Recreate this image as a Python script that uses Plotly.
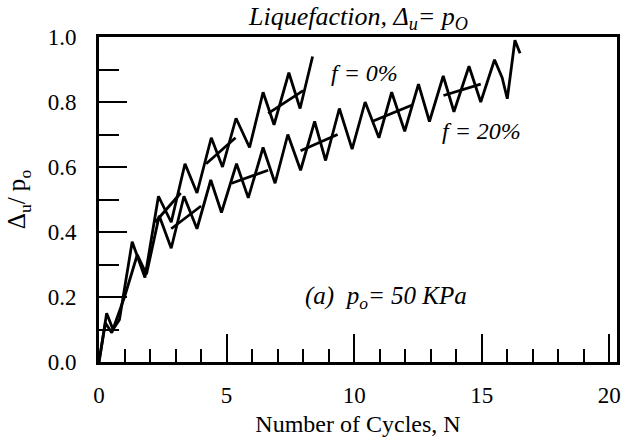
import plotly.graph_objects as go

# f = 0% curve (cycles N, pore pressure ratio du/po)
f0_n = [0, 0.3, 0.55, 0.8, 1.3, 1.8, 2.33, 2.83, 3.37, 3.84, 4.4, 4.84, 5.37, 5.9,
        6.43, 6.86, 7.44, 7.88, 8.37]
f0_v = [0, 0.15, 0.10, 0.13, 0.37, 0.26, 0.51, 0.43, 0.61, 0.52, 0.69, 0.60, 0.75, 0.66,
        0.83, 0.73, 0.89, 0.78, 0.94]

# f = 20% curve
f20_n = [0, 0.25, 0.5, 1.0, 1.5, 1.86, 2.36, 2.83, 3.33, 3.84, 4.38, 4.8, 5.39, 5.85,
         6.43, 6.9, 7.4, 7.9, 8.45, 8.88, 9.42, 9.92, 10.43, 10.97, 11.47, 11.98,
         12.52, 12.95, 13.49, 13.91, 14.5, 14.96, 15.5, 15.8, 16.0, 16.3, 16.5]
f20_v = [0, 0.12, 0.09, 0.20, 0.33, 0.27, 0.45, 0.35, 0.51, 0.41, 0.56, 0.46, 0.61, 0.505,
         0.66, 0.55, 0.70, 0.59, 0.74, 0.62, 0.78, 0.655, 0.80, 0.69, 0.83, 0.71,
         0.855, 0.74, 0.88, 0.77, 0.91, 0.80, 0.93, 0.875, 0.81, 0.99, 0.95]

# mean-trend segments drawn across the zigzags
f0_seg_n = [2.2, 3.2, None, 4.2, 5.35, None, 6.63, 8.0]
f0_seg_v = [0.43, 0.52, None, 0.61, 0.69, None, 0.765, 0.835]
f20_seg_n = [2.83, 4.0, None, 5.2, 6.63, None, 7.9, 9.35, None, 10.7, 12.25, None, 13.5, 14.96]
f20_seg_v = [0.41, 0.48, None, 0.55, 0.59, None, 0.65, 0.70, None, 0.74, 0.79, None, 0.82, 0.855]

x_ticks = [0, 5, 10, 15, 20]
y_ticks = [0.0, 0.2, 0.4, 0.6, 0.8, 1.0]
y_tick_text = ["0.0", "0.2", "0.4", "0.6", "0.8", "1.0"]

SERIF = "Liberation Serif"
line = dict(color="black", width=2.8)

fig = go.Figure()
fig.add_trace(go.Scatter(x=f0_n, y=f0_v, mode="lines", line=line, showlegend=False))
fig.add_trace(go.Scatter(x=f20_n, y=f20_v, mode="lines", line=line, showlegend=False))
fig.add_trace(go.Scatter(x=f0_seg_n, y=f0_seg_v, mode="lines", line=line, showlegend=False))
fig.add_trace(go.Scatter(x=f20_seg_n, y=f20_seg_v, mode="lines", line=line, showlegend=False))

fig.update_layout(
    width=630, height=441,
    margin=dict(l=99, r=13, t=37, b=79),
    paper_bgcolor="white", plot_bgcolor="white",
    font=dict(family=SERIF, color="black", size=23),
    xaxis=dict(range=[0, 20.3], tickvals=x_ticks, ticktext=[str(t) for t in x_ticks],
               automargin=False,
               ticks="inside", ticklen=28, tickwidth=2, tickcolor="black",
               ticklabelstandoff=10,
               minor=dict(dtick=1, ticks="inside", ticklen=13, tickwidth=2, tickcolor="black"),
               showline=True, linewidth=3, linecolor="black", mirror=True,
               showgrid=False, zeroline=False,
               title=dict(text="Number of Cycles, N", font=dict(size=24), standoff=9)),
    yaxis=dict(range=[0, 1], tickvals=y_ticks, ticktext=y_tick_text,
               automargin=False,
               ticks="inside", ticklen=28, tickwidth=2, tickcolor="black",
               ticklabelstandoff=15,
               minor=dict(dtick=0.1, ticks="inside", ticklen=20, tickwidth=2, tickcolor="black"),
               showline=True, linewidth=3, linecolor="black", mirror=True,
               showgrid=False, zeroline=False,
               title=dict(text="Δ<sub>u</sub>/ p<sub>o</sub>", font=dict(size=25), standoff=15)),
)

fig.add_annotation(x=0.5, y=1.0, xref="paper", yref="paper", yshift=1,
                   text="<i>Liquefaction, Δ<sub>u</sub>= p<sub>O</sub></i>",
                   showarrow=False, yanchor="bottom", font=dict(size=26))
fig.add_annotation(x=9.0, y=0.89, text="<i>f = 0%</i>", showarrow=False,
                   xanchor="left", font=dict(size=24))
fig.add_annotation(x=13.35, y=0.71, text="<i>f = 20%</i>", showarrow=False,
                   xanchor="left", font=dict(size=24))
fig.add_annotation(x=8.0, y=0.2, text="<i>(a)  p<sub>o</sub>= 50 KPa</i>", showarrow=False,
                   xanchor="left", font=dict(size=25))

# remove the page's default body margin so the 630x441 figure fills the window
fig.write_html("out.html", config={"displayModeBar": False},
               post_script="document.body.style.margin='0px';document.body.style.overflow='hidden';")
